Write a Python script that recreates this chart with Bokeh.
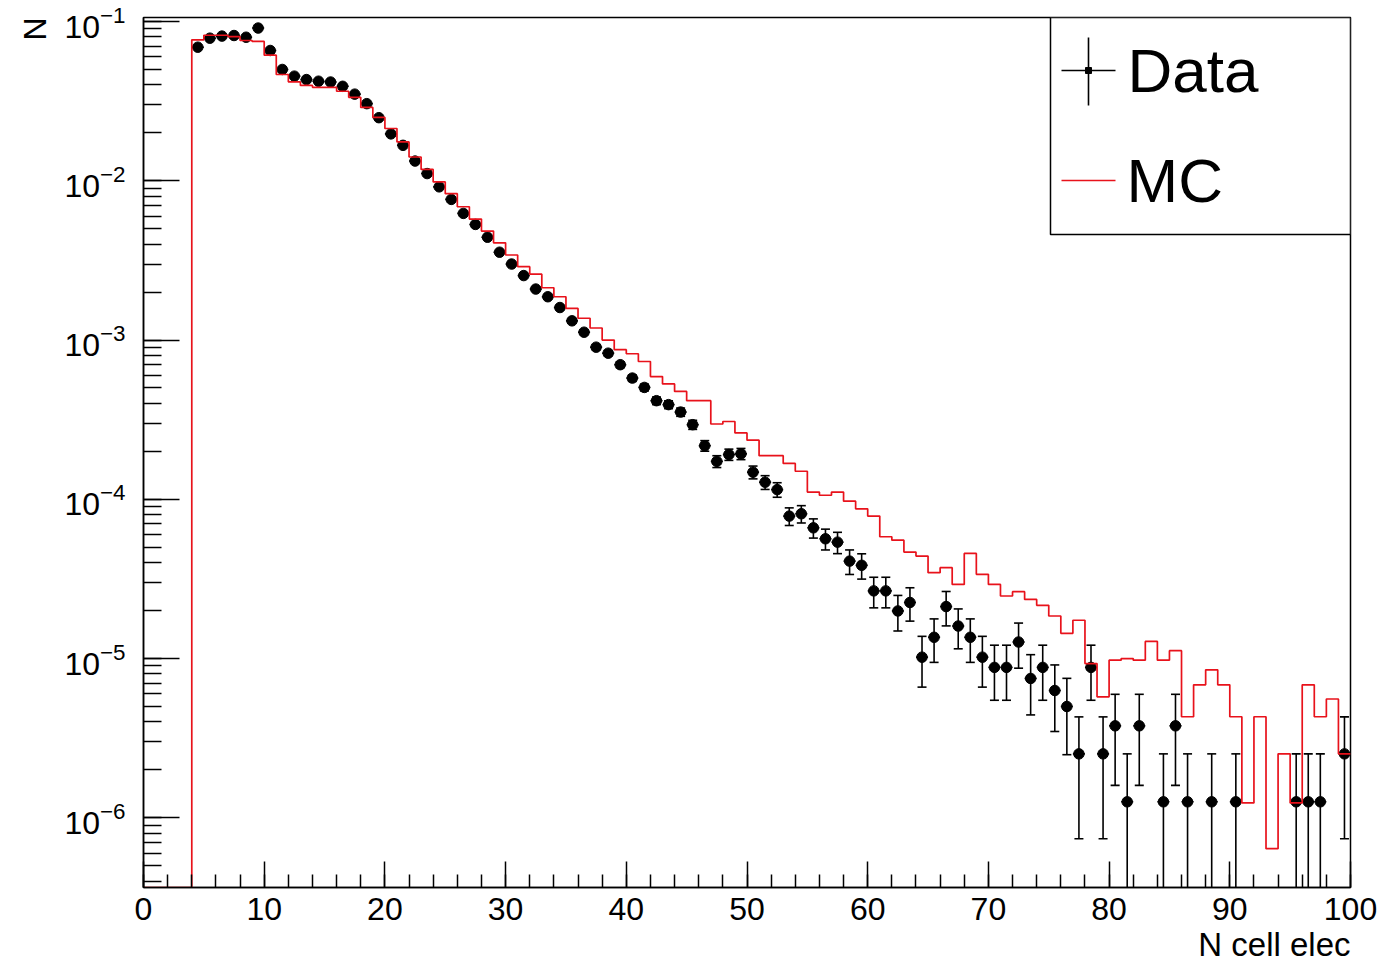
import math
from bokeh.plotting import figure
from bokeh.models import SingleIntervalTicker, LogTicker, Title
from bokeh.core.properties import value
from bokeh.embed import file_html
from bokeh.resources import INLINE

# ---------------- data ----------------
# 100 bins of width 1 from 0 to 100
bin_edges = list(range(0, 101))

# Data (normalised), one value per bin (0 = empty bin)
data_vals = [
    0, 0, 0, 0, 0.0690, 0.0786, 0.0810, 0.0817, 0.0797, 0.0910,
    0.0658, 0.0500, 0.0454, 0.0432, 0.0422, 0.0417, 0.0392, 0.0350, 0.0305, 0.0249,
    0.0197, 0.0167, 0.0133, 0.0111, 0.00916, 0.00764, 0.00624, 0.00532, 0.00442, 0.00356,
    0.00300, 0.00254, 0.00209, 0.00187, 0.00160, 0.00132, 0.00112, 0.000902, 0.000827, 0.000700,
    0.000577, 0.000504, 0.000416, 0.000393, 0.000353, 0.000294, 0.000217, 0.000173, 0.000191, 0.000193,
    0.000148, 0.000128, 0.000115, 7.84e-5, 8.11e-5, 6.62e-5, 5.65e-5, 5.38e-5, 4.09e-5, 3.85e-5,
    2.66e-5, 2.66e-5, 1.99e-5, 2.25e-5, 1.02e-5, 1.36e-5, 2.12e-5, 1.60e-5, 1.36e-5, 1.02e-5,
    8.8e-6, 8.8e-6, 1.27e-5, 7.5e-6, 8.8e-6, 6.3e-6, 5.0e-6, 2.52e-6, 8.8e-6, 2.52e-6,
    3.78e-6, 1.26e-6, 3.78e-6, 0, 1.26e-6, 3.78e-6, 1.26e-6, 0, 1.26e-6, 0,
    1.26e-6, 0, 0, 0, 0, 1.26e-6, 1.26e-6, 1.26e-6, 0, 2.52e-6,
]

# MC (normalised), one value per bin
mc_vals = [
    0, 0, 0, 0, 0.0768, 0.0820, 0.0820, 0.0805, 0.0760, 0.0750,
    0.0615, 0.0465, 0.0418, 0.0397, 0.0386, 0.0386, 0.0365, 0.0334, 0.0289, 0.0250,
    0.0213, 0.01755, 0.0141, 0.01178, 0.00984, 0.0083, 0.00687, 0.00575, 0.00483, 0.00408,
    0.00342, 0.00289, 0.00259, 0.00213, 0.00187, 0.00158, 0.00137, 0.00119, 0.00100, 0.00087,
    0.00082, 0.000733, 0.00059, 0.00053, 0.000476, 0.000416, 0.000416, 0.000297, 0.000308, 0.000261,
    0.000235, 0.000188, 0.000188, 0.000168, 0.000150, 0.000111, 0.000106, 0.000111, 9.73e-5, 8.71e-5,
    7.84e-5, 5.82e-5, 5.54e-5, 4.66e-5, 4.40e-5, 3.46e-5, 3.72e-5, 2.92e-5, 4.57e-5, 3.38e-5,
    2.92e-5, 2.47e-5, 2.63e-5, 2.35e-5, 2.16e-5, 1.85e-5, 1.44e-5, 1.74e-5, 9.3e-6, 5.75e-6,
    9.77e-6, 1.0e-5, 9.77e-6, 1.28e-5, 9.77e-6, 1.12e-5, 4.31e-6, 6.84e-6, 8.49e-6, 6.84e-6,
    4.31e-6, 1.24e-6, 4.31e-6, 6.4e-7, 2.52e-6, 1.24e-6, 6.84e-6, 4.31e-6, 5.57e-6, 2.52e-6,
]

# weight of a single data event (Poisson errors: sqrt(N) * weight)
event_weight = 1.26e-6

x_ticks_major = 10
legend_labels = ["Data", "MC"]
x_title = "N cell elec"
y_title = "N"

# ---------------- layout ----------------
X0, X1 = 0.0, 100.0
Y_MIN, Y_MAX = 3.65e-7, 0.106
W, H = 1386, 967
B_L, B_R, B_T, B_B = 143, 36, 17, 80
FW, FH = W - B_L - B_R, H - B_T - B_B
LY0, LY1 = math.log10(Y_MIN), math.log10(Y_MAX)


def fx(px):
    return X0 + (X1 - X0) * px / FW


def fy(py):
    return 10 ** (LY1 - (LY1 - LY0) * py / FH)


FONT = "Liberation Sans"

p = figure(width=W, height=H, x_range=(X0, X1), y_range=(Y_MIN, Y_MAX),
           y_axis_type="log", output_backend="svg", toolbar_location=None,
           min_border=0, min_border_left=B_L, min_border_right=B_R,
           min_border_top=B_T, min_border_bottom=B_B)
p.background_fill_color = "white"
p.border_fill_color = "white"
p.xgrid.visible = False
p.ygrid.visible = False
p.outline_line_color = "black"
p.outline_line_width = 1.5

p.xaxis.ticker = SingleIntervalTicker(interval=x_ticks_major, num_minor_ticks=5)
p.yaxis.ticker = LogTicker(num_minor_ticks=10)
for ax in (p.xaxis, p.yaxis):
    ax.axis_line_width = 1.5
    ax.major_tick_line_width = 1.5
    ax.minor_tick_line_width = 1.5
    ax.major_tick_out = 0
    ax.minor_tick_out = 0
    ax.major_label_text_font = FONT
    ax.major_label_text_font_size = "32px"
    ax.major_label_text_color = "black"
p.xaxis.major_tick_in = 26
p.xaxis.minor_tick_in = 13
p.yaxis.major_tick_in = 36
p.yaxis.minor_tick_in = 18
p.xaxis.major_label_standoff = 10
p.yaxis.major_label_standoff = 18

# ---------------- axis titles ----------------
p.add_layout(Title(text=y_title, align="right", text_font=FONT, text_font_size="32px",
                   text_font_style="normal", text_color="black", standoff=18), "left")
p.add_layout(Title(text=x_title, align="right", text_font=FONT, text_font_size="33px",
                   text_font_style="normal", text_color="black", standoff=3), "below")

# ---------------- data points ----------------
xc, yv, lo, hi, lo_cap_x, lo_cap_y = [], [], [], [], [], []
for i, v in enumerate(data_vals):
    if v <= 0:
        continue
    c = (bin_edges[i] + bin_edges[i + 1]) / 2
    e = math.sqrt(v * event_weight)
    xc.append(c)
    yv.append(v)
    hi.append(v + e)
    low = v - e
    if low > Y_MIN:
        lo.append(low)
        lo_cap_x.append(c)
        lo_cap_y.append(low)
    else:
        lo.append(Y_MIN * 0.3)

half = [(bin_edges[1] - bin_edges[0]) / 2] * len(xc)
p.segment(x0=xc, y0=lo, x1=xc, y1=hi, line_color="black", line_width=1.6)
p.segment(x0=[a - h for a, h in zip(xc, half)], y0=yv,
          x1=[a + h for a, h in zip(xc, half)], y1=yv,
          line_color="black", line_width=1.6)
p.scatter(x=xc, y=hi, marker="dash", size=9, line_color="black", line_width=1.6)
p.scatter(x=lo_cap_x, y=lo_cap_y, marker="dash", size=9, line_color="black", line_width=1.6)
p.scatter(x=xc, y=yv, marker="circle", size=10.5, fill_color="black", line_color="black")

# ---------------- MC histogram ----------------
mc_plot = [v if v > 0 else Y_MIN for v in mc_vals]
p.step(x=bin_edges, y=mc_plot + [mc_plot[-1]], mode="after",
       line_color="#e8121b", line_width=1.7)

# ---------------- legend ----------------
p.quad(left=[fx(907)], right=[fx(FW)], top=[fy(0)], bottom=[fy(217)],
       fill_color="white", line_color="black", line_width=1.5)
# Data symbol
p.segment(x0=[fx(945)], y0=[fy(20)], x1=[fx(945)], y1=[fy(88)], line_color="black", line_width=1.6)
p.segment(x0=[fx(918)], y0=[fy(53)], x1=[fx(972)], y1=[fy(53)], line_color="black", line_width=1.6)
p.scatter(x=[fx(945)], y=[fy(53)], marker="square", size=6, fill_color="black", line_color="black")
# MC symbol
p.segment(x0=[fx(918)], y0=[fy(163)], x1=[fx(972)], y1=[fy(163)], line_color="#e8121b", line_width=1.7)
p.text(x=[fx(984), fx(983)], y=[fy(53), fy(163)], text=legend_labels,
       text_font=value(FONT), text_font_size="62px", text_color="black",
       text_align="left", text_baseline="middle")

open("out.html", "w").write(file_html(p, INLINE))
